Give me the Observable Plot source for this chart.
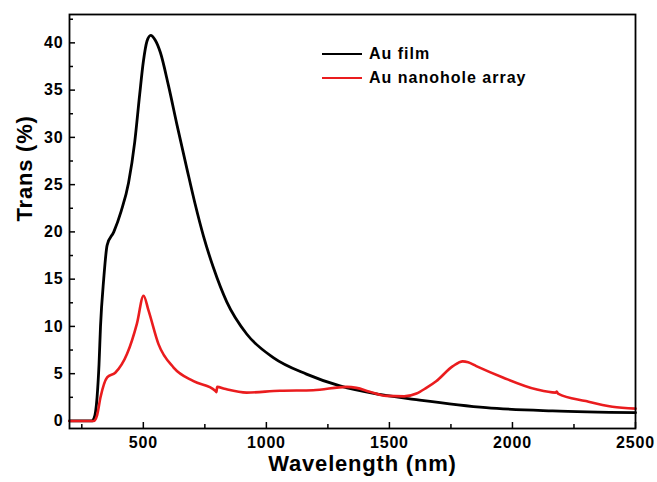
<!DOCTYPE html>
<html>
<head>
<meta charset="utf-8">
<script src="https://cdn.jsdelivr.net/npm/d3@7"></script>
<script src="https://cdn.jsdelivr.net/npm/@observablehq/plot@0.6"></script>
<style>
  html, body { margin: 0; padding: 0; background: #fff; }
  #wrap { position: relative; width: 657px; height: 482px; font-family: "Liberation Sans", Arial, sans-serif; }
  #legend { position: absolute; left: 322px; top: 42px; font-weight: bold; font-size: 16px; letter-spacing: 1px; color: #000; }
  .row { display: flex; align-items: center; height: 24px; }
  .sw { width: 40px; height: 0; border-top: 2.6px solid; margin-right: 7px; }
</style>
</head>
<body>
<div id="wrap"><div id="legend"></div></div>
<script>
const seriesNames = ["Au film", "Au nanohole array"];
const seriesColors = ["#000000", "#ea1c1e"];

const filmWl = [200, 290, 300, 312, 320, 326, 339, 353, 380, 410, 440, 465, 485, 500, 515, 530, 548, 569, 602, 637, 677, 710, 745, 785, 839, 920, 1028, 1163, 1299, 1460, 1623, 1893, 2163, 2500];
const filmT  = [0, 0, 0.3, 2.5, 6, 10, 15, 18.6, 20, 22.2, 25.2, 29.5, 34.5, 38, 40.2, 40.8, 40.3, 39.0, 35.5, 31.3, 26.7, 23.0, 19.5, 16.2, 12.6, 9.2, 6.7, 4.95, 3.7, 2.8, 2.2, 1.4, 1.06, 0.87];

const holeWl = [200, 298, 312, 326, 353, 386, 434, 474, 501, 521, 562, 623, 704, 792, 797, 800, 830, 920, 1055, 1190, 1326, 1366, 1420, 1488, 1560, 1610, 1650, 1690, 1758, 1798, 1820, 1853, 1961, 2096, 2175, 2180, 2185, 2298, 2406, 2500];
const holeT  = [0, 0, 0.6, 2.5, 4.6, 5.1, 7.1, 10.3, 13.25, 11.7, 8.1, 5.65, 4.2, 3.2, 3.05, 3.6, 3.4, 3.0, 3.2, 3.25, 3.6, 3.5, 3.1, 2.65, 2.6, 2.9, 3.5, 4.2, 5.8, 6.3, 6.2, 5.8, 4.6, 3.35, 3.0, 3.1, 2.9, 2.1, 1.5, 1.3];

const xMajor = [500, 1000, 1500, 2000, 2500];
const xMinor = [250, 750, 1250, 1750, 2250];
const yMajor = [0, 5, 10, 15, 20, 25, 30, 35, 40];
const yMinor = [2.5, 7.5, 12.5, 17.5, 22.5, 27.5, 32.5, 37.5, 42.5];
const xLabel = "Wavelength (nm)";
const yLabel = "Trans (%)";

const film = filmWl.map((w, i) => ({w, t: filmT[i], s: seriesNames[0]}));
const hole = holeWl.map((w, i) => ({w, t: holeT[i], s: seriesNames[1]}));

const chart = Plot.plot({
  width: 657,
  height: 482,
  marginLeft: 69,
  marginRight: 22,
  marginTop: 14,
  marginBottom: 54,
  style: {fontFamily: "'Liberation Sans', Arial, sans-serif", fontWeight: "bold", fontSize: "16px", color: "#000", background: "#fff", letterSpacing: "0.8px"},
  x: {domain: [200, 2500]},
  y: {domain: [-0.8, 43]},
  marks: [
    Plot.axisX({ticks: xMajor, tickFormat: "d", tickSize: 0, tickPadding: 8, label: null, fontSize: 16}),
    Plot.axisX({ticks: xMajor, tickSize: 6, insetBottom: 6, fill: "none", label: null, strokeWidth: 1.5}),
    Plot.axisX({ticks: xMinor, tickSize: 4, insetBottom: 4, fill: "none", label: null, strokeWidth: 1.5}),
    Plot.axisY({ticks: yMajor, tickSize: 0, tickPadding: 6, label: null, fontSize: 16}),
    Plot.axisY({ticks: yMajor, tickSize: 6, insetLeft: 6, fill: "none", label: null, strokeWidth: 1.5}),
    Plot.axisY({ticks: yMinor, tickSize: 4, insetLeft: 4, fill: "none", label: null, strokeWidth: 1.5}),
    Plot.line(film, {x: "w", y: "t", stroke: seriesColors[0], strokeWidth: 2.8, curve: "monotone-x"}),
    Plot.line(hole, {x: "w", y: "t", stroke: seriesColors[1], strokeWidth: 2.6, curve: "monotone-x"}),
    Plot.frame({stroke: "#000", strokeWidth: 1.8}),
    Plot.text([xLabel], {frameAnchor: "bottom", dy: 42, dx: 10, fontSize: 22, fontWeight: "bold"}),
    Plot.text([yLabel], {frameAnchor: "left", dx: -45, rotate: -90, fontSize: 22, fontWeight: "bold"})
  ]
});
document.getElementById("wrap").prepend(chart);

const legend = document.getElementById("legend");
seriesNames.forEach((n, i) => {
  const row = document.createElement("div");
  row.className = "row";
  const sw = document.createElement("span");
  sw.className = "sw";
  sw.style.borderColor = seriesColors[i];
  const tx = document.createElement("span");
  tx.textContent = n;
  row.append(sw, tx);
  legend.append(row);
});
</script>
</body>
</html>
